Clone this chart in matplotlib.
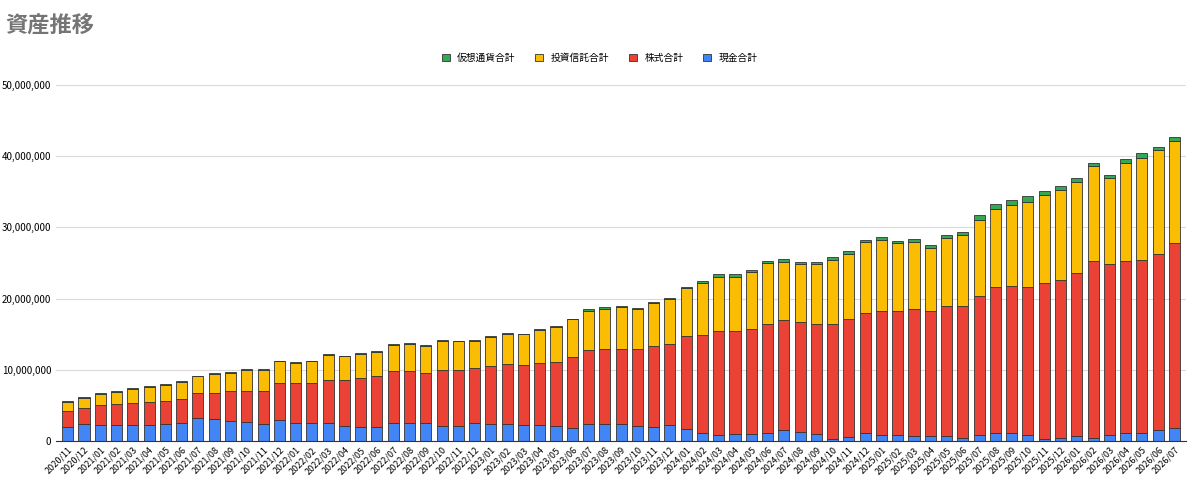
import matplotlib
matplotlib.use("Agg")
import matplotlib.pyplot as plt
from matplotlib.ticker import FuncFormatter
import numpy as np

plt.rcParams['font.family'] = ['Noto Sans CJK JP', 'DejaVu Sans']

months = []
y, m = 2020, 11
for _ in range(69):
    months.append(f"{y}/{m:02d}")
    m += 1
    if m > 12:
        m = 1; y += 1

# cumulative tops (millions yen)
cash_top = [2.0,2.4,2.3,2.3,2.3,2.3,2.4,2.5,3.3,3.1,2.8,2.7,2.4,2.9,2.6,2.6,2.5,2.1,2.0,2.0,2.6,2.6,2.5,2.1,2.1,2.5,2.4,2.4,2.2,2.2,2.1,1.8,2.4,2.4,2.4,2.1,2.0,2.2,1.7,1.2,0.9,1.0,1.0,1.1,1.5,1.3,1.0,0.3,0.6,1.1,0.9,0.8,0.7,0.7,0.7,0.4,0.9,1.2,1.2,0.9,0.3,0.4,0.7,0.4,0.9,1.2,1.2,1.5,1.8]
stock_top = [4.2,4.6,5.1,5.2,5.3,5.5,5.7,5.9,6.7,6.8,7.0,7.1,7.1,8.1,8.1,8.2,8.6,8.6,8.8,9.1,9.8,9.8,9.5,10.0,10.0,10.2,10.5,10.8,10.7,11.0,11.1,11.8,12.8,12.9,13.0,12.9,13.3,13.7,14.7,14.9,15.5,15.5,15.7,16.4,17.0,16.7,16.4,16.4,17.2,18.0,18.3,18.3,18.6,18.2,18.9,18.9,20.4,21.7,21.8,21.6,22.2,22.6,23.6,25.3,24.8,25.3,25.4,26.3,27.8]
trust_top = [5.5,6.1,6.6,6.9,7.3,7.6,7.9,8.3,9.1,9.4,9.6,10.0,10.0,11.2,11.0,11.2,12.1,11.9,12.3,12.5,13.5,13.7,13.4,14.1,14.0,14.1,14.6,15.1,15.0,15.6,16.0,17.1,18.3,18.6,18.8,18.5,19.4,19.9,21.5,22.2,23.1,23.1,23.7,25.0,25.2,24.9,24.9,25.4,26.3,27.9,28.2,27.8,28.0,27.1,28.5,28.9,31.1,32.6,33.2,33.6,34.6,35.3,36.4,38.6,36.9,39.1,39.8,40.8,42.1]
total_top = [5.6,6.2,6.7,7.0,7.4,7.7,8.0,8.4,9.2,9.5,9.7,10.1,10.1,11.3,11.1,11.3,12.2,12.0,12.4,12.6,13.6,13.8,13.5,14.2,14.1,14.2,14.7,15.2,15.1,15.7,16.1,17.2,18.5,18.8,19.0,18.7,19.6,20.1,21.7,22.5,23.4,23.4,24.0,25.3,25.6,25.2,25.2,25.8,26.7,28.3,28.7,28.1,28.4,27.5,28.9,29.4,31.7,33.3,33.8,34.4,35.1,35.8,37.0,39.0,37.4,39.6,40.4,41.3,42.7]

cash = np.array(cash_top) * 1e6
stock = (np.array(stock_top) - np.array(cash_top)) * 1e6
trust = (np.array(trust_top) - np.array(stock_top)) * 1e6
crypto = (np.array(total_top) - np.array(trust_top)) * 1e6

fig = plt.figure(figsize=(11.99, 4.8), dpi=100)
ax = fig.add_axes([0.047, 0.081, 0.942, 0.742])
x = np.arange(len(months))
kw = dict(width=0.68, edgecolor='#333333', linewidth=0.6)
ax.bar(x, cash, color='#4285F4', label='現金合計', **kw)
ax.bar(x, stock, bottom=cash, color='#EA4335', label='株式合計', **kw)
ax.bar(x, trust, bottom=cash+stock, color='#FBBC04', label='投資信託合計', **kw)
ax.bar(x, crypto, bottom=cash+stock+trust, color='#34A853', label='仮想通貨合計', **kw)

ax.set_ylim(0, 50e6)
ax.set_xlim(-0.7, len(months)-0.3)
ax.set_yticks(np.arange(0, 50e6+1, 10e6))
ax.yaxis.set_major_formatter(FuncFormatter(lambda v, p: f"{int(v):,}"))
ax.tick_params(axis='y', labelsize=7, length=0)
ax.set_xticks(x)
ax.set_xticklabels(months, rotation=45, ha='right', rotation_mode='anchor', fontsize=6.5)
ax.tick_params(axis='x', length=0, pad=3)
ax.grid(axis='y', color='#d9d9d9', linewidth=0.8)
ax.set_axisbelow(True)
for s in ['top', 'right', 'left']:
    ax.spines[s].set_visible(False)
ax.spines['bottom'].set_color('#333333')

h, l = ax.get_legend_handles_labels()
fig.legend(h[::-1], l[::-1], loc='center', bbox_to_anchor=(0.5, 0.879), ncol=4,
           frameon=False, fontsize=7, handlelength=0.8, handleheight=0.8, columnspacing=2.0)
fig.text(0.004, 0.945, '資産推移', fontsize=16, fontweight='bold', color='#757575', va='center')

fig.savefig('out.png', dpi=100)
